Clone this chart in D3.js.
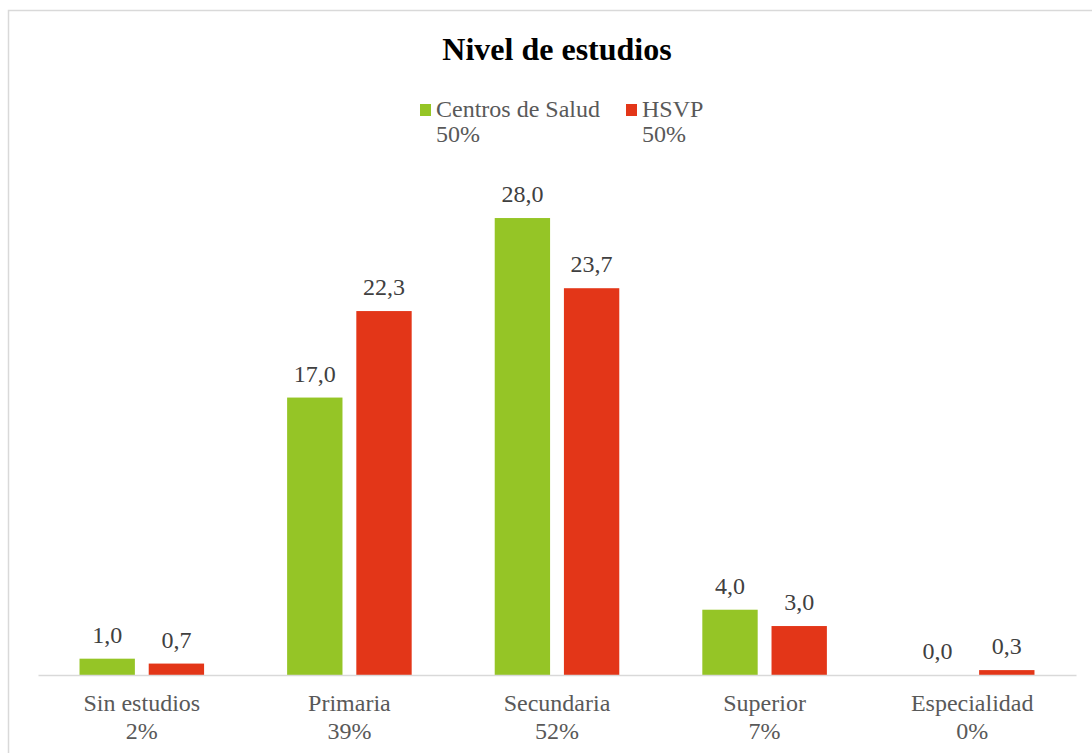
<!DOCTYPE html>
<html>
<head>
<meta charset="utf-8">
<script src="https://cdn.jsdelivr.net/npm/d3@7"></script>
<style>
  body { margin: 0; background: #fff; }
</style>
</head>
<body>
<div id="chart"></div>
<script>
const w = 1092;
const h = 753;
const font = "'Times New Roman', 'Liberation Serif', Times, serif";

// data
const categories = ["Sin estudios", "Primaria", "Secundaria", "Superior", "Especialidad"];
const categoryPct = ["2%", "39%", "52%", "7%", "0%"];
const seriesNames = ["Centros de Salud", "HSVP"];
const seriesPct = ["50%", "50%"];
const centrosValues = [1.0, 17.0, 28.0, 4.0, 0.0];
const hsvpValues = [0.7, 22.3, 23.7, 3.0, 0.3];

const colors = { "Centros de Salud": "#95c526", "HSVP": "#e33618" };

const rows = categories.map((c, i) => ({
    cat: c,
    pct: categoryPct[i],
    vals: [
        { key: seriesNames[0], v: centrosValues[i] },
        { key: seriesNames[1], v: hsvpValues[i] }
    ]
}));

const svg = d3.select("#chart")
    .append("svg")
    .attr("width", w)
    .attr("height", h)
    .style("font-family", font);

// outer frame (runs off right / bottom like the original)
svg.append("rect")
    .attr("x", 8.5)
    .attr("y", 10.5)
    .attr("width", w + 20)
    .attr("height", h + 20)
    .attr("fill", "#fff")
    .attr("stroke", "#d9d9d9")
    .attr("stroke-width", 1.5);

const x0 = d3.scaleBand()
    .domain(categories)
    .range([38, 1076])
    .padding(0);

const x1 = d3.scaleBand()
    .domain(seriesNames)
    .range([0, x0.bandwidth()])
    .paddingInner(0.2)
    .paddingOuter(0.6);

const y = d3.scaleLinear()
    .domain([0, 30])
    .range([675, 185.4]);

// title
svg.append("text")
    .attr("x", 557)
    .attr("y", 60)
    .attr("text-anchor", "middle")
    .attr("font-size", 32)
    .attr("font-weight", "bold")
    .attr("fill", "#000")
    .text("Nivel de estudios");

// legend
const legendX = [420, 626];
const legend = svg.selectAll(".legend")
    .data(seriesNames)
    .enter()
    .append("g")
    .attr("class", "legend")
    .attr("transform", (d, i) => "translate(" + legendX[i] + ",0)");

legend.append("rect")
    .attr("x", 0)
    .attr("y", 104)
    .attr("width", 11)
    .attr("height", 12)
    .attr("fill", d => colors[d]);

legend.append("text")
    .attr("x", 16)
    .attr("y", 117)
    .attr("font-size", 24)
    .attr("fill", "#595959")
    .text(d => d);

legend.append("text")
    .attr("x", 16)
    .attr("y", 142)
    .attr("font-size", 24)
    .attr("fill", "#595959")
    .text((d, i) => seriesPct[i]);

// bars
const groups = svg.selectAll(".group")
    .data(rows)
    .enter()
    .append("g")
    .attr("class", "group")
    .attr("transform", d => "translate(" + x0(d.cat) + ",0)");

groups.selectAll("rect")
    .data(d => d.vals)
    .enter()
    .append("rect")
    .attr("x", d => x1(d.key))
    .attr("y", d => y(d.v))
    .attr("width", x1.bandwidth())
    .attr("height", d => y(0) - y(d.v))
    .attr("fill", d => colors[d.key]);

groups.selectAll(".val")
    .data(d => d.vals)
    .enter()
    .append("text")
    .attr("class", "val")
    .attr("x", d => x1(d.key) + x1.bandwidth() / 2)
    .attr("y", d => y(d.v) - 16)
    .attr("text-anchor", "middle")
    .attr("font-size", 24)
    .attr("fill", "#404040")
    .text(d => d.v.toFixed(1).replace(".", ","));

// axis
const axis = svg.append("g")
    .attr("transform", "translate(0," + y(0) + ")")
    .call(d3.axisBottom(x0).tickSize(0).tickFormat(""));
axis.select(".domain").attr("stroke", "#d9d9d9").attr("stroke-width", 1.5);

groups.append("text")
    .attr("x", x0.bandwidth() / 2)
    .attr("y", 711)
    .attr("text-anchor", "middle")
    .attr("font-size", 24)
    .attr("fill", "#595959")
    .text(d => d.cat);

groups.append("text")
    .attr("x", x0.bandwidth() / 2)
    .attr("y", 739)
    .attr("text-anchor", "middle")
    .attr("font-size", 24)
    .attr("fill", "#595959")
    .text(d => d.pct);
</script>
</body>
</html>
